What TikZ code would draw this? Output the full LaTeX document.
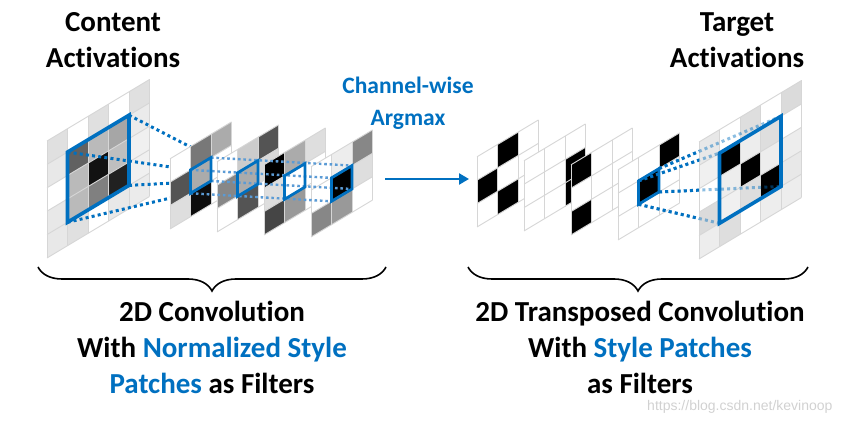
\documentclass[tikz,border=0pt]{standalone}
\usepackage{fontspec}
\setmainfont{Carlito}[Ligatures={NoCommon,NoContextual}]
\newfontfamily\urlfont{Liberation Sans}
\usetikzlibrary{arrows.meta,decorations.pathreplacing}

\definecolor{pptblue}{HTML}{0070C0}
\definecolor{paleblue}{HTML}{5B9BD5}
\definecolor{cellline}{HTML}{D6D6D6}

\newcommand{\fillcells}[1]{%
  \foreach \cx/\cy/\cv in {#1}
    \fill[black!\cv] (\cx,\cy) -- ++(1,0) -- ++(0,1) -- ++(-1,0) -- cycle;}
\newcommand{\cellgridlines}[1]{%
  \foreach \k in {0,...,#1}{
    \draw[cellline,line width=0.9pt] (\k,0) -- (\k,#1);
    \draw[cellline,line width=0.9pt] (0,\k) -- (#1,\k);}}
% one 3x3 map: lower left corner x, y, cells, name
\newcommand{\smallmap}[4]{%
  \begin{scope}[shift={(#1,#2)},slanted]
    \fill[white] (0,0) -- (3,0) -- (3,3) -- (0,3) -- cycle;
    \fillcells{#3}
    \cellgridlines{3}
    \coordinate (#4a) at (1,1); \coordinate (#4b) at (2,1);
    \coordinate (#4c) at (2,2); \coordinate (#4d) at (1,2);
  \end{scope}}

\tikzset{
  slanted/.style={x={(20.5pt,12.3pt)},y={(0pt,23.4pt)}},
  bluebox/.style={draw=pptblue,line width=3.2pt,line join=miter},
  bigdots/.style={pptblue,line width=3pt,dash pattern=on 3pt off 3.2pt},
  smalldots/.style={paleblue,line width=2.4pt,dash pattern=on 2.6pt off 2.8pt},
  headline/.style={font=\fontsize{29}{36}\selectfont\bfseries,align=center,inner sep=0pt},
}

\begin{document}
\begin{tikzpicture}[x=1pt,y=-1pt]
\useasboundingbox (0,0) rectangle (843,427);

% content activations
\begin{scope}[shift={(47,258)},slanted]
  \fill[white] (0,0) -- (5,0) -- (5,5) -- (0,5) -- cycle;
  \fillcells{0/4/12,0/3/9,0/1/9,0/0/9,1/3/62,1/2/27,1/1/27,1/0/12,2/4/12,2/3/27,2/2/93,2/1/50,3/3/35,3/2/25,3/1/87,3/0/9,4/4/12,4/3/8,4/2/6,4/1/6,4/0/8}
  \cellgridlines{5}
  \coordinate (ca) at (1,1); \coordinate (cb) at (4,1);
  \coordinate (cc) at (4,4); \coordinate (cd) at (1,4);
\end{scope}

\path[shift={(170,229)},slanted] (1,1) coordinate (p1a) (2,1) coordinate (p1b)
  (2,2) coordinate (p1c) (1,2) coordinate (p1d);
\foreach \k in {a,b,c,d} \draw[bigdots] (c\k) -- (p1\k);

\smallmap{170}{229}{0/1/67,0/0/13,1/2/53,1/1/33,1/0/95,2/2/33}{p1}
\smallmap{217}{232}{0/1/47,1/2/20,1/1/33,1/0/67,2/2/67,2/1/15}{p2}
\smallmap{264}{235}{0/2/100,0/1/13,0/0/73,1/2/33,1/0/40,2/2/13}{p3}
\smallmap{311}{237}{0/0/47,1/2/7,1/1/100,1/0/40,2/2/47,2/1/13}{p4}

\foreach \k in {a,b,c,d} \draw[smalldots] (p1\k) -- (p4\k);
\foreach \n in {1,...,4}
  \draw[bluebox,line width=2.8pt] (p\n a) -- (p\n b) -- (p\n c) -- (p\n d) -- cycle;
\draw[bluebox,line width=3.6pt] (ca) -- (cb) -- (cc) -- (cd) -- cycle;

% argmax
\coordinate (argfrom) at (385,179);
\coordinate (argto) at (469,179);
\draw[pptblue,line width=2.6pt,-{Triangle[length=10pt,width=11pt]}] (argfrom) -- (argto);

\smallmap{477}{227}{0/1/100,1/2/100,1/0/100}{q1}
\smallmap{524}{231}{2/1/100,2/0/100}{q2}
\smallmap{571}{235}{0/2/100,0/0/100}{q3}
\smallmap{618}{240}{1/1/100,2/2/100}{q4}

% target activations
\path[shift={(699,259)},slanted] (1,1) coordinate (ta) (4,1) coordinate (tb)
  (4,4) coordinate (tc) (1,4) coordinate (td);
\foreach \k in {a,b,c,d} \draw[bigdots] (q4\k) -- (t\k);
\begin{scope}[shift={(699,259)},slanted]
  \fill[white] (0,0) -- (5,0) -- (5,5) -- (0,5) -- cycle;
  \fillcells{0/4/9,0/3/6,0/1/14,0/0/7,1/3/100,1/2/7,1/1/6,1/0/13,2/4/13,2/3/7,2/2/100,2/1/13,3/3/13,3/2/7,3/1/100,3/0/7,4/4/14,4/2/7,4/1/9,4/0/7}
  \cellgridlines{5}
\end{scope}
\foreach \k in {a,b,c,d} \draw[bigdots,opacity=0.45] (q4\k) -- (t\k);
\draw[bluebox,line width=2.8pt] (q4a) -- (q4b) -- (q4c) -- (q4d) -- cycle;
\draw[bluebox,line width=3.6pt] (ta) -- (tb) -- (tc) -- (td) -- cycle;

% braces
\draw[line width=1.6pt,decorate,decoration={brace,amplitude=24pt}] (386,267) -- (38,267);
\draw[line width=1.6pt,decorate,decoration={brace,amplitude=24pt}] (808,267) -- (468,267);

\node[headline] (content) at (113,40) {Content\\Activations};
\node[headline] (target) at (737,40) {Target\\Activations};
\node[headline,font=\fontsize{23.5}{32}\selectfont\bfseries,text=pptblue] (argmax) at (408,103) {Channel-wise\\Argmax};
\node[headline] (convtext) at (212,347) {2D Convolution\\With \textcolor{pptblue}{Normalized Style}\\\textcolor{pptblue}{Patches} as Filters};
\node[headline] (deconvtext) at (640,347) {2D Transposed Convolution\\With \textcolor{pptblue}{Style Patches}\\as Filters};
\node[text=black!18,font=\urlfont\fontsize{14}{16}\selectfont,anchor=east] (wm) at (836,407) {https://blog.csdn.net/kevinoop};
\end{tikzpicture}
\end{document}
